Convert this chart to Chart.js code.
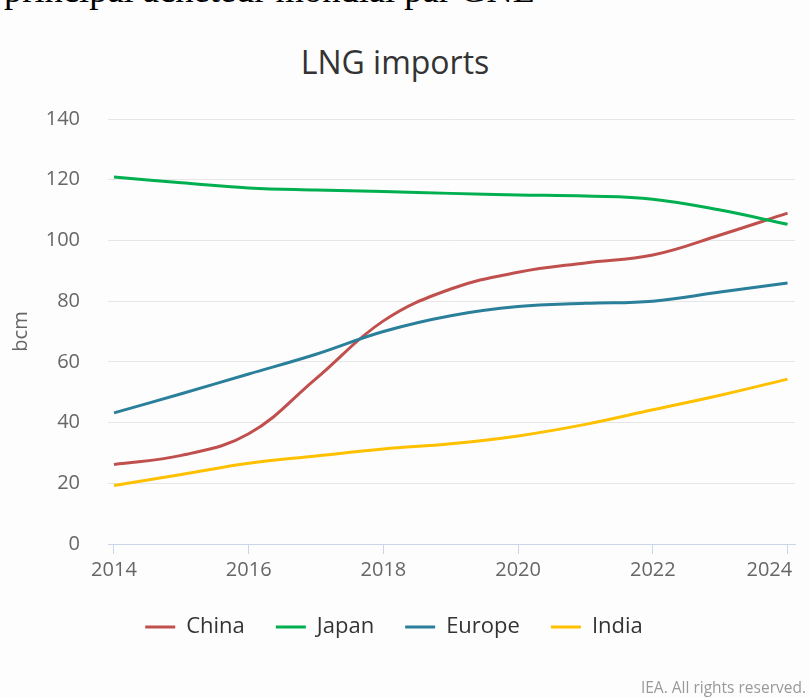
<!DOCTYPE html>
<html>
<head>
<meta charset="utf-8">
<title>LNG imports</title>
<script src="https://cdn.jsdelivr.net/npm/chart.js@4"></script>
<style>
  html, body { margin: 0; padding: 0; background: #fdfdfd; }
  body { width: 809px; height: 698px; position: relative; overflow: hidden; font-family: "Open Sans", sans-serif; }
  #cut { position: absolute; left: 4px; top: -28px; font: 36.5px "Liberation Serif", serif; line-height: 36px; color: #000; white-space: nowrap; }
  #title { position: absolute; left: 0; width: 790px; top: 46px; text-align: center; font-size: 32px; line-height: 32px; color: #333; }
  #credits { position: absolute; right: 3px; top: 680px; font-size: 15.5px; line-height: 15.5px; color: #999; }
  canvas { position: absolute; left: 0; top: 0; }
</style>
</head>
<body>
<div id="cut">principal acheteur mondial par GNL</div>
<div id="title">LNG imports</div>
<canvas id="lng" width="809" height="698"></canvas>
<div id="credits">IEA. All rights reserved.</div>
<script>
// --- data (bcm) ---
const years = [2014, 2015, 2016, 2017, 2018, 2019, 2020, 2021, 2022, 2023, 2024];
const china  = [26.2, 29.2, 36.3, 54.5, 73.5, 84.0, 89.5, 92.6, 95.2, 101.8, 109.0];
const japan  = [120.9, 119.0, 117.3, 116.6, 116.1, 115.5, 115.0, 114.6, 113.6, 110.0, 105.3];
const europe = [43.2, 49.5, 56.0, 62.5, 70.0, 75.2, 78.2, 79.3, 80.0, 83.0, 86.0];
const india  = [19.3, 22.9, 26.6, 29.0, 31.3, 33.0, 35.6, 39.4, 44.2, 49.0, 54.3];
const xTicks = [2014, 2016, 2018, 2020, 2022, 2024];
const yTicks = [0, 20, 40, 60, 80, 100, 120, 140];

const names  = ['China', 'Japan', 'Europe', 'India'];
const series = [china, japan, europe, india];
const colors = ['#c0504d', '#00b050', '#2a7f9a', '#ffc000'];

const font = (size) => ({ family: '"Open Sans", sans-serif', size: size });

// highcharts centres the legend a bit left of the plot centre
const shiftLegend = {
    id: 'shiftLegend',
    afterLayout(chart) {
        chart.legend.left -= 7.5;
        chart.legend.right -= 7.5;
    }
};

new Chart(document.getElementById('lng').getContext('2d'), {
    type: 'line',
    data: {
        datasets: series.map((vals, i) => ({
            label: names[i],
            data: years.map((y, j) => ({ x: y, y: vals[j] })),
            borderColor: colors[i],
            backgroundColor: colors[i],
            borderWidth: 3,
            tension: 0.4,
            pointRadius: 0,
            fill: false,
            order: series.length - 1 - i
        }))
    },
    plugins: [shiftLegend],
    options: {
        responsive: false,
        animation: false,
        devicePixelRatio: 1,
        layout: { padding: { top: 119, left: 8, right: 14, bottom: 50 } },
        plugins: {
            title: { display: false },
            tooltip: { enabled: false },
            legend: {
                position: 'bottom',
                labels: {
                    boxWidth: 30,
                    boxHeight: 3,
                    padding: 31,
                    color: '#333',
                    font: font(22),
                    generateLabels: (chart) => Chart.defaults.plugins.legend.labels.generateLabels(chart)
                        .map(l => ({ ...l, lineWidth: 0 }))
                        .sort((a, b) => a.datasetIndex - b.datasetIndex)
                }
            }
        },
        scales: {
            x: {
                type: 'linear',
                min: 2013.911,
                max: 2024.111,
                afterBuildTicks: (s) => { s.ticks = xTicks.map(v => ({ value: v })); },
                afterFit: (s) => { s.height = 41; s.paddingRight = 0; },
                // last label is pushed left so it stays inside the chart, like the original
                ticks: {
                    callback: (v) => v === 2024 ? '2024       ' : String(v),
                    color: '#666', font: font(20), padding: 4, maxRotation: 0, autoSkip: false
                },
                grid: { drawOnChartArea: false, drawTicks: true, tickLength: 10, color: '#ccd6eb' },
                border: { display: true, color: '#ccd6eb' }
            },
            y: {
                min: 0,
                max: 140,
                afterBuildTicks: (s) => { s.ticks = yTicks.map(v => ({ value: v })); },
                afterFit: (s) => { s.width = 100; },
                ticks: { color: '#666', font: font(20), padding: 28 },
                grid: { color: '#e6e6e6', drawTicks: false },
                border: { display: false },
                title: { display: true, text: 'bcm', color: '#666', font: font(20), padding: 1 }
            }
        }
    }
});
</script>
</body>
</html>
